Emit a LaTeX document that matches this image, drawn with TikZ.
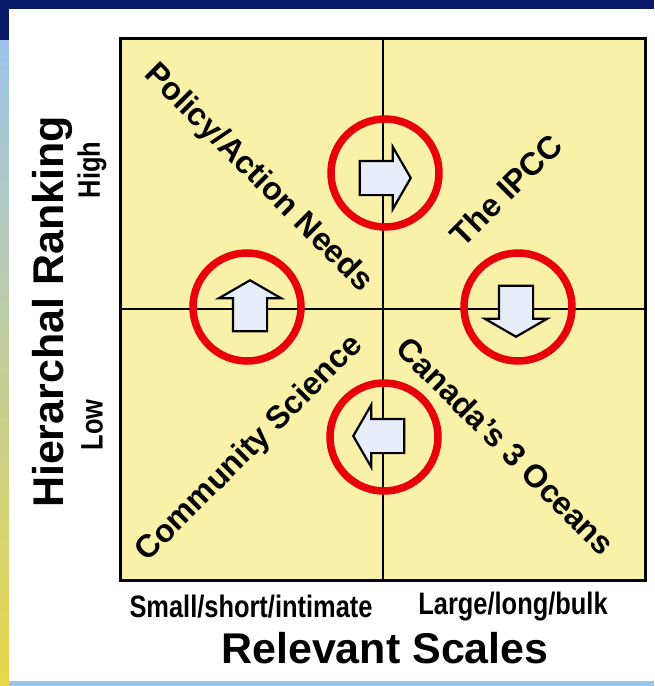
\documentclass[tikz,border=0pt]{standalone}
\usepackage{fontspec}
\setmainfont{Liberation Sans}
\newfontfamily\narrowfont[FakeStretch=0.82]{Liberation Sans}
\usetikzlibrary{shapes.arrows}
\definecolor{slideNavy}{HTML}{0A1A6B}
\definecolor{seaBlue}{HTML}{9CC3EA}
\definecolor{sandYellow}{HTML}{E8D84A}
\definecolor{paleYellow}{HTML}{FAF1A8}
\definecolor{ringRed}{HTML}{E8000B}
\definecolor{arrowFill}{HTML}{E6EDF9}
\tikzset{
  quadlabel/.style={font=\fontsize{32}{32}\selectfont\bfseries, inner sep=0pt},
  axistitle/.style={font=\fontsize{43}{43}\selectfont\bfseries, inner sep=0pt},
  axisend/.style={font=\narrowfont\fontsize{31}{31}\selectfont\bfseries, inner sep=0pt},
  redring/.style={circle, draw=ringRed, line width=7.5pt, minimum size=108pt, inner sep=0pt},
  movearrow/.style={single arrow, draw=black, line width=2.2pt, fill=arrowFill,
                    inner sep=16pt, single arrow head extend=14pt,
                    single arrow tip angle=120, minimum height=51pt, anchor=tip},
  divider/.style={line width=2pt}
}
\begin{document}
\begin{tikzpicture}[x=1pt,y=-1pt]
\useasboundingbox (0,0) rectangle (654,686);
% slide frame
\fill[slideNavy] (0,0) rectangle (654,686);
\shade[top color=seaBlue, bottom color=sandYellow] (0,40) rectangle (9,686);
\fill[white] (9,9) rectangle (654,681);
\fill[seaBlue] (9,681) rectangle (654,686);
% quadrant square
\node[draw, line width=3pt, fill=paleYellow, minimum width=525pt, minimum height=542pt,
      inner sep=0pt] (grid) at (382.5,309) {};
\draw[divider] (grid.north) -- (grid.south);
\draw[divider] (grid.west) -- (grid.east);
\node[quadlabel, rotate=-45] (policy) at (258,178) {Policy/Action Needs};
\node[quadlabel, rotate=45] (ipcc) at (506,190) {The IPCC};
\node[quadlabel, rotate=45] (community) at (250,449) {Community Science};
\node[quadlabel, rotate=-45] (oceans) at (506,446) {Canada's 3 Oceans};
% circled arrows
\node[redring] (ringtop) at (385,173) {};
\node[redring] (ringleft) at (247,307) {};
\node[redring] (ringright) at (518,307) {};
\node[redring] (ringbottom) at (384,437) {};
\node[movearrow] (toright) at (412,178) {};
\node[movearrow, shape border rotate=90] (toup) at (250,279) {};
\node[movearrow, shape border rotate=270] (todown) at (516,338) {};
\node[movearrow, shape border rotate=180] (toleft) at (352,436) {};
% axes
\node[axistitle, rotate=90] (ranking) at (52,312) {Hierarchal Ranking};
\node[axisend, rotate=90] (high) at (92,170) {High};
\node[axisend, rotate=90] (low) at (92,425) {Low};
\node[axisend] (small) at (251,607) {Small/short/intimate};
\node[axisend] (large) at (513,607) {Large/long/bulk};
\node[axistitle] (scales) at (385,648) {Relevant Scales};
\end{tikzpicture}
\end{document}
